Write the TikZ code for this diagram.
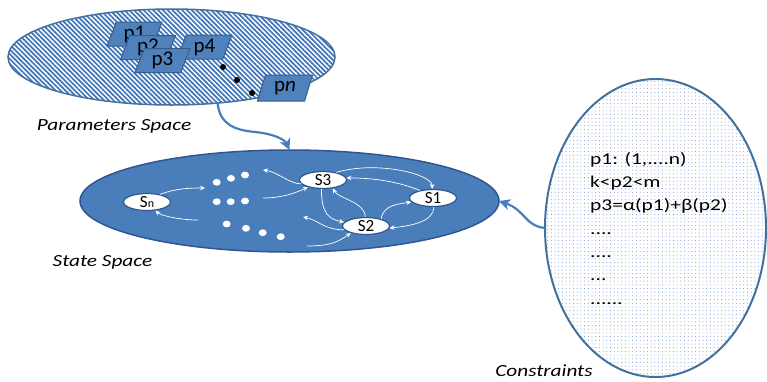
\documentclass[tikz,border=0pt]{standalone}
\usepackage{fontspec}
\setmainfont{Carlito}
\newfontfamily\widefont[FakeStretch=1.25]{Carlito}
\newfontfamily\consfont[FakeStretch=1.3]{Carlito}
\usetikzlibrary{shapes.geometric,patterns.meta,arrows.meta}
\definecolor{obl}{HTML}{4F81BD}
\definecolor{obd}{HTML}{385D8A}
\definecolor{stb}{HTML}{4A7EBB}
\definecolor{std}{HTML}{2F5690}
\definecolor{hatc}{HTML}{3F74B8}
\definecolor{dotc}{HTML}{6F92D0}
\definecolor{conb}{HTML}{41719C}
\begin{document}
\begin{tikzpicture}[x=1pt,y=-1pt,
  pbox/.style={trapezium, trapezium left angle=72, trapezium right angle=108,
    trapezium stretches=true, minimum width=55pt, minimum height=24pt,
    inner sep=0pt, fill=obl, draw=obd, line width=1pt,
    font=\fontsize{21}{24}\selectfont},
  snode/.style={ellipse, fill=white, draw=std, line width=1.2pt,
    minimum width=47pt, minimum height=17pt, inner sep=0pt,
    font=\fontsize{17}{18}\selectfont},
  warr/.style={draw=white, line width=0.7pt, -{Stealth[length=5pt,width=4.5pt]}},
  barr/.style={draw=stb, line width=2.2pt, -{Stealth[length=11pt,width=11pt,inset=3pt]}},
  lab/.style={font=\widefont\itshape\fontsize{17}{20}\selectfont, anchor=base, inner sep=0pt},
  cons/.style={font=\consfont\fontsize{16.5}{20}\selectfont, anchor=base west, inner sep=0pt},
  bigell/.style={ellipse, inner sep=0pt, outer sep=0pt}
]
\useasboundingbox (0,0) rectangle (767,381);

% Parameters space
\node[bigell, minimum width=327pt, minimum height=96pt, draw=conb, line width=1.5pt,
  pattern={Lines[angle=-45,distance=3.4pt,line width=1.7pt]}, pattern color=hatc]
  (P) at (171.5,57) {};
\node[pbox] (p1) at (134.5,34) {p1};
\node[pbox] (p2) at (148,47.5) {p2};
\node[pbox] (p4) at (204.5,47) {p4};
\node[pbox] (p3) at (162.5,60.5) {p3};
\node[pbox, minimum height=26pt] (pn) at (285,88) {p\textit{n}};
\fill (223,67) circle (3);
\fill (237,80) circle (3);
\fill (252,93) circle (3);
\node[lab] (lp) at (114,130.5) {Parameters Space};

% State space
\node[bigell, minimum width=419pt, minimum height=102pt, fill=stb, draw=std, line width=1.5pt]
  (state) at (289.5,201) {};
\node[snode] (Sn) at (147,202) {S{\fontsize{12}{14}\selectfont n}};
\node[snode] (S3) at (323,180) {S3};
\node[snode] (S1) at (433,198) {S1};
\node[snode] (S2) at (366,226) {S2};
\foreach \x/\y in {216.7/182.3, 231/178.3, 245/175, 216.7/201.7, 230.7/201.7, 245/201,
  226.7/224, 246/228.3, 262.7/232.7, 280.7/236.7}
  \fill[white] (\x,\y) ellipse [x radius=4, y radius=3.4];
\coordinate (c1) at (205,188);
\coordinate (c2) at (198,220);
\coordinate (c3) at (263,170);
\coordinate (c4) at (263,198);
\coordinate (c11) at (303,217);
\coordinate (c12) at (307,246);
\draw[warr] (Sn.30) .. controls +(15,-6) and +(-15,0) .. (c1);
\draw[warr] (c2) .. controls +(-18,0) and +(5,5) .. (Sn.-45);
\draw[warr] (S3.190) .. controls +(-12,0) and +(15,2) .. (c3);
\draw[warr] (c4) .. controls +(20,0) and +(-10,5) .. (S3.205);
\draw[warr] (S3.30) .. controls +(40,-12) and +(0,-15) .. (S1.95);
\draw[warr] (S1.150) .. controls +(-20,-8) and +(30,0) .. (S3.5);
\draw[warr] (S3.-100) .. controls +(0,25) and +(-15,-3) .. (S2.170);
\draw[warr] (S2.95) .. controls +(0,-15) and +(5,10) .. (S3.-40);
\draw[warr] (S2.25) .. controls +(2,-15) and +(-10,2) .. (S1.190);
\draw[warr] (S1.-85) .. controls +(0,15) and +(20,-2) .. (S2.-5);
\draw[warr] (S2.190) .. controls +(-20,0) and +(15,3) .. (c11);
\draw[warr] (c12) .. controls +(25,0) and +(-12,8) .. (S2.-155);
\node[lab] (ls) at (102.5,266) {State Space};

% Constraints
\node[bigell, minimum width=221pt, minimum height=298pt, draw=conb, line width=2pt,
  pattern={Dots[distance=3.7pt,radius=0.5pt]}, pattern color=dotc]
  (C) at (655.5,228) {};
\node[cons] (k1) at (590,164) {p1: (1,....n)};
\node[cons] (k2) at (590,187.3) {k<p2<m};
\node[cons] (k3) at (590,210.6) {p3=α(p1)+β(p2)};
\node[cons] (k4) at (590,234) {....};
\node[cons] (k5) at (590,257.3) {....};
\node[cons] (k6) at (590,280.6) {...};
\node[cons] (k7) at (590,304) {......};
\node[lab] (lc) at (544,376) {Constraints};

% Connectors
\draw[barr] (P.-45) .. controls (220,125) and (235,130) .. (255,132)
  .. controls (275,134) and (285,140) .. (state.north);
\draw[barr] (C.west) .. controls (525,226) and (525,210) .. (state.east);
\end{tikzpicture}
\end{document}
